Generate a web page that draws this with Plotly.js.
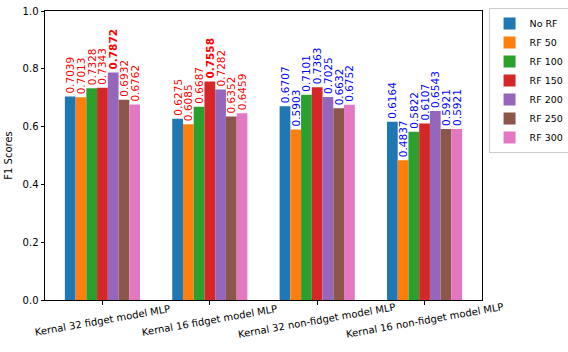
<!DOCTYPE html>
<html>
<head>
<meta charset="utf-8">
<script src="https://cdn.plot.ly/plotly-3.0.1.min.js"></script>
<style>
  html, body { margin: 0; padding: 0; background: #fff; }
  #chart { width: 568px; height: 352px; }
</style>
</head>
<body>
<div id="chart"></div>
<script>
// === DATA ===
const models = [
  "Kernal 32 fidget model MLP",
  "Kernal 16 fidget model MLP",
  "Kernal 32 non-fidget model MLP",
  "Kernal 16 non-fidget model MLP"
];
const seriesNames = ["No RF", "RF 50", "RF 100", "RF 150", "RF 200", "RF 250", "RF 300"];
const noRF   = [0.7039, 0.6275, 0.6707, 0.6164];
const rf50   = [0.7013, 0.6085, 0.5903, 0.4837];
const rf100  = [0.7328, 0.6687, 0.7101, 0.5822];
const rf150  = [0.7343, 0.7558, 0.7363, 0.6107];
const rf200  = [0.7872, 0.7282, 0.7025, 0.6543];
const rf250  = [0.6932, 0.6352, 0.6632, 0.5921];
const rf300  = [0.6762, 0.6459, 0.6752, 0.5921];
const labelColors = ["#ff0000", "#ff0000", "#0000ff", "#0000ff"];
const boldGroups = [true, true, false, false]; // best score in bold

const allSeries = [noRF, rf50, rf100, rf150, rf200, rf250, rf300];
const barColors = ["#1f77b4", "#ff7f0e", "#2ca02c", "#d62728", "#9467bd", "#8c564b", "#e377c2"];

// best value per model (over all series)
const best = models.map((m, j) => Math.max(...allSeries.map(s => s[j])));

const FONT = "DejaVu Sans, sans-serif";

// === TRACES ===
const traces = allSeries.map((vals, i) => ({
  type: "bar",
  name: seriesNames[i],
  x: models,
  y: vals,
  marker: { color: barColors[i], line: { width: 0 } },
  text: vals.map((v, j) => (boldGroups[j] && v === best[j]) ? "<b>" + v + "</b>" : String(v)),
  textposition: "outside",
  textangle: -90,
  constraintext: "none",
  cliponaxis: false,
  textfont: { family: FONT, size: 10.5, color: labelColors },
  hoverinfo: "skip"
}));

// x tick labels centred under the ticks, like matplotlib's rotation=10
const tickLabels = models.map(m => ({
  x: m, xref: "x",
  y: -0.072, yref: "paper",
  text: m,
  textangle: -10,
  showarrow: false,
  xanchor: "center", yanchor: "middle",
  font: { family: FONT, size: 10, color: "#000" }
}));

// === LAYOUT ===
const layout = {
  width: 568,
  height: 352,
  margin: { l: 45, r: 86, t: 11, b: 52, autoexpand: false },
  paper_bgcolor: "#fff",
  plot_bgcolor: "#fff",
  font: { family: FONT, size: 10, color: "#000" },
  barmode: "group",
  bargap: 0.3,
  bargroupgap: 0,
  showlegend: true,
  legend: {
    x: 1.015, y: 1.01, xanchor: "left", yanchor: "top",
    bordercolor: "#cccccc", borderwidth: 1,
    font: { family: FONT, size: 9.5 },
    itemwidth: 30,
    tracegroupgap: 0
  },
  annotations: tickLabels,
  xaxis: {
    type: "category",
    range: [-0.535, 3.535],
    showticklabels: false,
    ticks: "outside", ticklen: 3.5, tickcolor: "#000",
    showline: true, linecolor: "#000", linewidth: 1, mirror: true,
    showgrid: false, zeroline: false
  },
  yaxis: {
    range: [0, 1],
    dtick: 0.2,
    tickformat: ".1f",
    ticks: "outside", ticklen: 3.5, tickcolor: "#000",
    showline: true, linecolor: "#000", linewidth: 1, mirror: true,
    showgrid: false, zeroline: false,
    tickfont: { family: FONT, size: 10 },
    title: { text: "F1 Scores", font: { family: FONT, size: 10 }, standoff: 8 }
  }
};

Plotly.newPlot("chart", traces, layout, { displayModeBar: false, staticPlot: true });
</script>
</body>
</html>
